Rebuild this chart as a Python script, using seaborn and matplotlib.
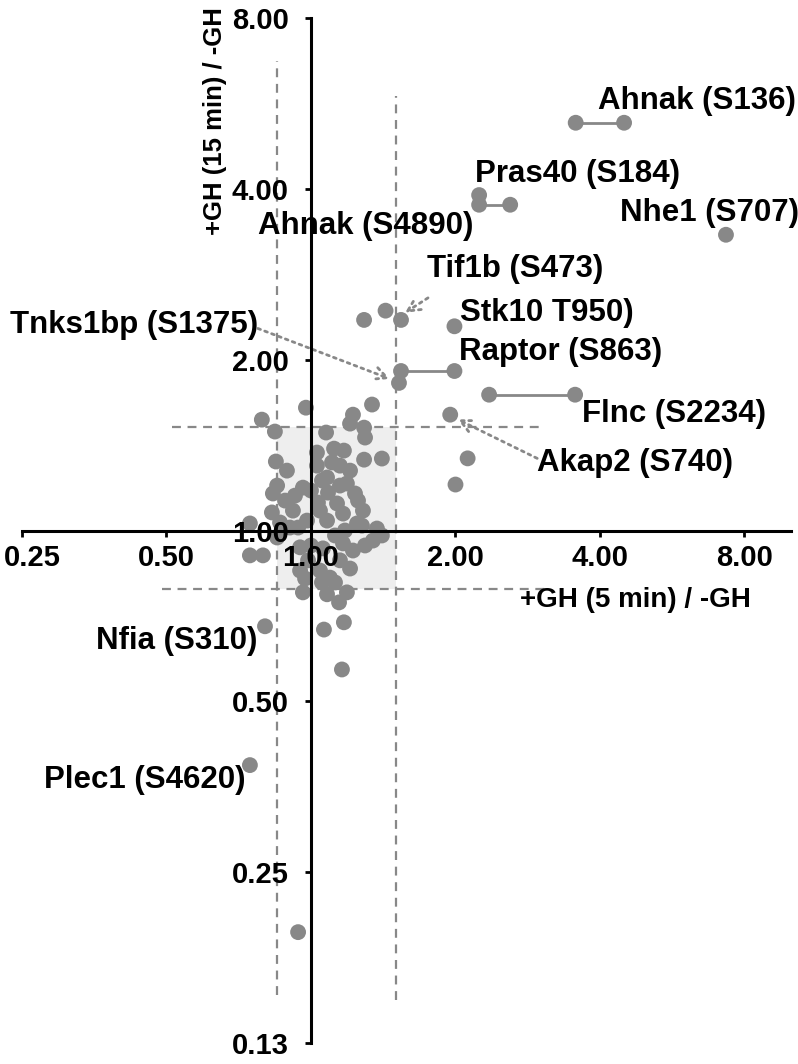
"""Phosphosite ratio scatter: +GH 5 min vs +GH 15 min (log2 axes)."""

import matplotlib
matplotlib.use("Agg")
import matplotlib.pyplot as plt
import matplotlib.transforms as mtransforms
import pandas as pd
import seaborn as sns

# Ratios.
ratio_5min = [
    3.56, 4.49, 2.24, 2.24, 2.60, 7.32, 1.54, 1.43, 1.29, 1.99, 1.54, 1.99, 1.525,
    2.35, 3.55, 1.95, 2.12, 2.00, 0.802, 0.746, 0.94, 1.064, 1.171, 1.16,
    0.790, 0.841, 0.976, 1.340, 1.223, 1.206, 1.290, 1.296, 1.075, 0.845, 1.029,
    1.117, 1.171, 1.290, 1.405, 1.029, 1.106, 1.149, 1.206, 1.080, 0.850, 0.833,
    0.926, 0.962, 1.054, 1.188, 1.235, 1.085, 1.034, 1.133, 0.829, 0.917, 0.981,
    0.940, 1.080, 1.166, 1.283, 1.247, 1.372, 1.405, 1.346, 0.746, 0.746, 0.794,
    0.850, 0.949, 1.059, 1.166, 1.223, 1.149, 1.206, 0.949, 1.044, 1.095, 0.904,
    0.862, 0.962, 1.080, 1.144, 1.188, 1.122, 1.054,
    1.000, 1.000, 0.986, 0.972, 1.277, 1.177, 1.122, 1.296, 1.044, 0.883, 0.891,
    1.149, 1.253,
]
ratio_15min = [
    5.23, 5.23, 3.90, 3.75, 3.75, 3.32, 2.35, 2.44, 2.35, 2.29, 1.91, 1.91, 1.82,
    1.735, 1.735, 1.60, 1.34, 1.205, 0.678, 0.386, 0.196, 0.669, 0.689, 0.569,
    1.568, 1.494, 1.646, 1.667, 1.600, 1.543, 1.518, 1.458, 1.488, 1.323, 1.372,
    1.394, 1.383, 1.333, 1.339, 1.301, 1.318, 1.301, 1.275, 1.240, 1.200, 1.162,
    1.152, 1.190, 1.225, 1.210, 1.162, 1.166, 1.120, 1.116, 1.076, 1.084, 1.041,
    1.012, 1.041, 1.071, 1.084, 1.029, 1.008, 0.980, 0.960, 1.029, 0.904, 0.904,
    0.972, 0.934, 0.930, 0.949, 0.922, 0.886, 0.857, 0.850, 0.850, 0.826, 1.012,
    1.033, 0.778, 0.772, 0.747, 0.778, 0.810, 0.810,
    1.176, 0.941, 0.886, 0.823, 1.020, 1.000, 0.980, 0.941, 1.084, 1.129, 1.275,
    1.200, 1.129,
]

# Sites measured twice, joined by a line.
pair_id = ["ahnak", "ahnak", "pras40", "pras40", "raptor", "raptor", "flnc", "flnc"]
pair_5min = [3.56, 4.49, 2.24, 2.60, 1.54, 1.99, 2.35, 3.55]
pair_15min = [5.23, 5.23, 3.75, 3.75, 1.91, 1.91, 1.735, 1.735]

ticks_x = [0.25, 0.5, 1, 2, 4, 8]
ticks_x_labels = ["0.25", "0.50", "1.00", "2.00", "4.00", "8.00"]
ticks_y = [0.125, 0.25, 0.5, 1, 2, 4, 8]
ticks_y_labels = ["0.13", "0.25", "0.50", "1.00", "2.00", "4.00", "8.00"]

# Cut-offs of the "unchanged" box.
cut_x = [0.85, 1.5]
cut_y = [0.79, 1.52]

GRAY = "#888888"

sns.set_theme(style="ticks")
plt.rcParams["font.family"] = ["Liberation Sans", "DejaVu Sans"]
plt.rcParams["font.weight"] = "bold"
plt.rcParams["text.color"] = "black"
plt.rcParams["xtick.labelcolor"] = "black"
plt.rcParams["ytick.labelcolor"] = "black"

fig = plt.figure(figsize=(7.98, 10.64), dpi=100)
ax = fig.add_axes([22 / 798, 21 / 1064, 769 / 798, 1025 / 1064])
ax.set_xscale("log", base=2)
ax.set_yscale("log", base=2)
ax.set_xlim(0.25, 10.0)
ax.set_ylim(0.125, 8)

# Shaded box and dashed cut-off lines.
dash = dict(ls="--", color=GRAY, lw=1.6, dashes=(4, 3), zorder=1)
ax.fill_between(cut_x, cut_y[0], cut_y[1], color="#eeeeee", zorder=0, lw=0)
ax.plot([cut_x[0]] * 2, [0.152, 6.72], **dash)
ax.plot([cut_x[1]] * 2, [0.149, 5.83], **dash)
ax.plot([0.513, 3.07], [cut_y[1]] * 2, **dash)
ax.plot([0.489, 3.07], [cut_y[0]] * 2, **dash)

# Pair lines and points.
pairs = pd.DataFrame({"pair": pair_id, "x": pair_5min, "y": pair_15min})
sns.lineplot(data=pairs, x="x", y="y", units="pair", estimator=None, color=GRAY,
             lw=2, ax=ax, legend=False, zorder=2, sort=False)
points = pd.DataFrame({"x": ratio_5min, "y": ratio_15min})
sns.scatterplot(data=points, x="x", y="y", color=GRAY, s=130, edgecolor="none",
                linewidth=0, ax=ax, legend=False, zorder=3, clip_on=False)

# Spines crossing at 1, drawn over the points.
for side in ["top", "right"]:
    ax.spines[side].set_visible(False)
ax.spines["left"].set_position(("data", 1))
ax.spines["bottom"].set_position(("data", 1))
for side in ["left", "bottom"]:
    ax.spines[side].set_linewidth(2.2)
    ax.spines[side].set_color("black")
    ax.spines[side].set_zorder(4)
ax.xaxis.set_zorder(5)
ax.yaxis.set_zorder(5)

ax.set_xticks(ticks_x)
ax.set_xticklabels(ticks_x_labels, fontweight="bold")
ax.set_yticks(ticks_y)
ax.set_yticklabels(ticks_y_labels, fontweight="bold")
ax.minorticks_off()
ax.tick_params(axis="both", direction="out", length=4, width=2, color="black",
               labelcolor="black", labelsize=21, bottom=True, left=True)
ax.tick_params(axis="x", pad=6)
ax.tick_params(axis="y", pad=12)
ax.set_xlabel("")
ax.set_ylabel("")

# Keep the first x label inside the figure.
first = ax.get_xticklabels()[0]
first.set_transform(first.get_transform()
                    + mtransforms.ScaledTranslation(0.1, 0, fig.dpi_scale_trans))

ax.text(4.75, 0.753, "+GH (5 min) / -GH", fontsize=20, fontweight="bold",
        ha="center", va="center", color="black")
ax.text(0.631, 5.27, "+GH (15 min) / -GH", fontsize=18.5, fontweight="bold",
        ha="center", va="center", rotation=90, color="black")

# Site labels.
labels = [
    ("Ahnak (S136)", 3.96, 5.72, "left"),
    ("Pras40 (S184)", 2.20, 4.25, "left"),
    ("Ahnak (S4890)", 2.175, 3.44, "right"),
    ("Nhe1 (S707)", 4.40, 3.63, "left"),
    ("Tif1b (S473)", 1.744, 2.89, "left"),
    ("Stk10 T950)", 2.04, 2.42, "left"),
    ("Tnks1bp (S1375)", 0.775, 2.30, "right"),
    ("Raptor (S863)", 2.03, 2.06, "left"),
    ("Flnc (S2234)", 3.67, 1.607, "left"),
    ("Akap2 (S740)", 2.96, 1.317, "left"),
    ("Nfia (S310)", 0.775, 0.638, "right"),
    ("Plec1 (S4620)", 0.729, 0.364, "right"),
]
for text, lx, ly, ha in labels:
    ax.text(lx, ly, text, fontsize=22.5, fontweight="bold", ha=ha, va="center",
            color="black", clip_on=False)

# Dotted pointers.
arrows = [
    ((1.753, 2.57), (1.57, 2.42)),
    ((0.775, 2.27), (1.46, 1.85)),
    ((2.96, 1.34), (2.02, 1.57)),
]
for start, end in arrows:
    ax.annotate("", xy=end, xytext=start,
                arrowprops=dict(arrowstyle="->", linestyle=":", color=GRAY, lw=2,
                                mutation_scale=22, shrinkA=0, shrinkB=0))

fig.savefig("out.png", dpi=100)
